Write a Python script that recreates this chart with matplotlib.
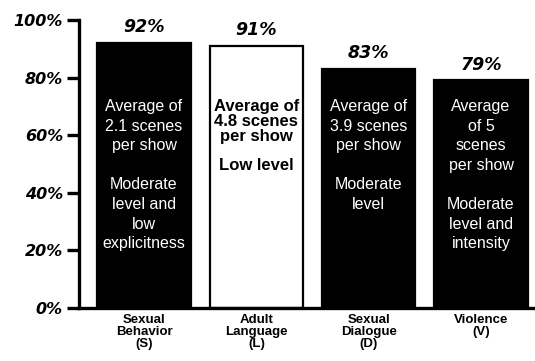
import matplotlib
matplotlib.use("Agg")
import matplotlib.pyplot as plt

# ---- data ----
categories = ["Sexual\nBehavior\n(S)", "Adult\nLanguage\n(L)",
              "Sexual\nDialogue\n(D)", "Violence\n(V)"]
percents = [92, 91, 83, 79]
bar_notes = [
    "Average of\n2.1 scenes\nper show\n\nModerate\nlevel and\nlow\nexplicitness",
    "Average of\n4.8 scenes\nper show\n\nLow level",
    "Average of\n3.9 scenes\nper show\n\nModerate\nlevel",
    "Average\nof 5\nscenes\nper show\n\nModerate\nlevel and\nintensity",
]
y_ticks = [0, 20, 40, 60, 80, 100]
y_tick_labels = ["0%", "20%", "40%", "60%", "80%", "100%"]

NARROW = ["Liberation Sans Narrow", "Liberation Sans", "DejaVu Sans"]
face_colors = ["black", "white", "black", "black"]
note_colors = ["white", "black", "white", "white"]

fig = plt.figure(figsize=(5.35, 3.61), dpi=100)
ax = fig.add_axes([79 / 535, 53 / 361, 1 - 79 / 535, 288 / 361])

x = list(range(len(categories)))
ax.bar(x, percents, width=0.83, color=face_colors, edgecolor="black",
       linewidth=1.6, zorder=2)

ax.set_xlim(-0.578, 3.48)
ax.set_ylim(0, 100)

# spines / ticks
for side in ["top", "right"]:
    ax.spines[side].set_visible(False)
ax.spines["left"].set_linewidth(2.4)
ax.spines["bottom"].set_linewidth(2.4)
ax.spines["left"].set_bounds(0, 100)

ax.set_yticks(y_ticks)
ax.set_yticklabels(y_tick_labels, fontsize=11.5, fontweight="heavy",
                   fontstyle="italic", family="DejaVu Sans")
ax.tick_params(axis="y", direction="out", length=8.5, width=2.4, pad=3)

ax.set_xticks(x)
ax.set_xticklabels(categories, fontsize=9.5, fontweight="bold",
                   family=NARROW, linespacing=1.05)
ax.tick_params(axis="x", length=0, pad=4)

# percent labels above bars
for i, p in enumerate(percents):
    ax.text(i, p + 5.5, f"{p}%", ha="center", va="center", fontsize=12.5,
            fontweight="heavy", fontstyle="italic", family="DejaVu Sans",
            clip_on=False)

# notes inside bars
for i, note in enumerate(bar_notes):
    bold = note_colors[i] == "black"
    ax.text(i, 72.5, note, ha="center", va="top", color=note_colors[i],
            fontsize=11.5 if not bold else 12, family=NARROW,
            fontweight="bold" if bold else "normal",
            linespacing=1.38 if not bold else 0.98, zorder=3)

fig.savefig("out.png", dpi=100, facecolor="white")
